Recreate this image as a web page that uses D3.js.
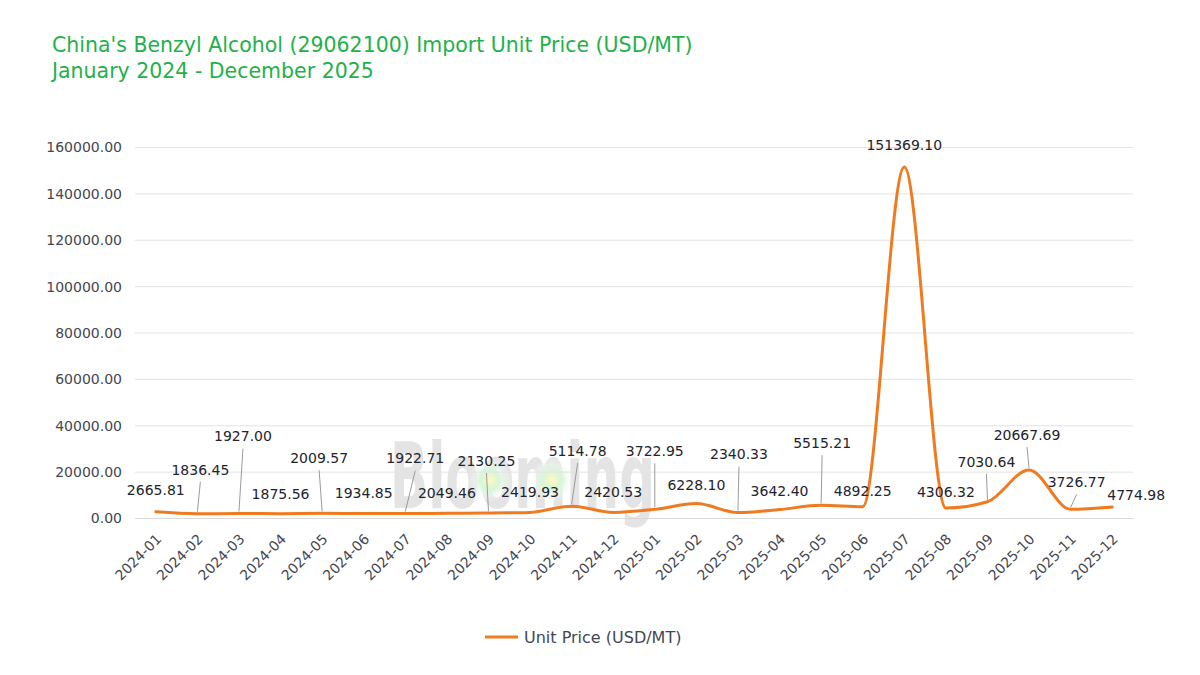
<html>
<head>
<script src="https://d3js.org/d3.v7.min.js"></script>
<style>
  body { margin: 0; background: #fff; }
  text { font-family: "DejaVu Sans", sans-serif; }
  .grid line { stroke: #e3e3e3; stroke-width: 1px; }
  .tick-label { font-size: 14px; fill: #444650; }
  .legend-label { font-size: 16px; fill: #444650; }
  .data-label { font-size: 14px; fill: #23232d; }
  .leader { stroke: #9a9a9a; stroke-width: 1px; }
  .title { font-size: 20.5px; fill: #1fb14a; }
</style>
</head>
<body>
<div id="chart"></div>
<script>
// data
var months = ["2024-01","2024-02","2024-03","2024-04","2024-05","2024-06","2024-07","2024-08","2024-09","2024-10","2024-11","2024-12",
              "2025-01","2025-02","2025-03","2025-04","2025-05","2025-06","2025-07","2025-08","2025-09","2025-10","2025-11","2025-12"];
var unitPrice = [2665.81,1836.45,1927.00,1875.56,2009.57,1934.85,1922.71,2049.46,2130.25,2419.93,5114.78,2420.53,
                 3722.95,6228.10,2340.33,3642.40,5515.21,4892.25,151369.10,4306.32,7030.64,20667.69,3726.77,4774.98];
var yTicks = [0,20000,40000,60000,80000,100000,120000,140000,160000];
var seriesName = "Unit Price (USD/MT)";

// label placement (offset from point, px) and whether a leader line is drawn
var labelDx = [0,3,4,0,-3,0,10,0,-2,0,6,0,0,0,1,0,1,0,0,0,-1,-2,6,24];
var labelDy = [-22,-44,-77,-20,-55,-20,-55,-20,-52,-20,-55,-20,-58,-18,-58,-18,-62,-16,-22,-16,-40,-35,-27,-12];
var leader  = [0,1,1,0,1,0,1,0,1,0,1,0,1,0,1,0,1,0,0,0,1,1,1,0];

var W = 1200, H = 675;
var mLeft = 135, mRight = 1133, mTop = 147, mBottom = 518;

var svg = d3.select("#chart").append("svg")
    .attr("width", W).attr("height", H);

var x = d3.scalePoint().domain(months).range([mLeft, mRight]).padding(0.5);
var y = d3.scaleLinear().domain([0, 160000]).range([mBottom, mTop]);

// title
svg.append("text").attr("class", "title").attr("x", 52).attr("y", 52)
    .text("China's Benzyl Alcohol (29062100) Import Unit Price (USD/MT)");
svg.append("text").attr("class", "title").attr("x", 52).attr("y", 78)
    .text("January 2024 - December 2025");

// watermark
var wm = svg.append("g").attr("opacity", 0.65);
var grad = svg.append("defs").append("radialGradient").attr("id", "glow");
grad.append("stop").attr("offset", "0%").attr("stop-color", "#fff6a0");
grad.append("stop").attr("offset", "45%").attr("stop-color", "#c4f0c6");
grad.append("stop").attr("offset", "100%").attr("stop-color", "#ffffff").attr("stop-opacity", 0);
wm.append("text").attr("x", 390).attr("y", 508)
    .attr("font-size", 90).attr("font-weight", "bold").attr("fill", "#d6d6d6")
    .attr("textLength", 265).attr("lengthAdjust", "spacingAndGlyphs")
    .text("Blooming");
wm.selectAll("circle.g").data([490, 552]).enter().append("circle")
    .attr("cx", d => d).attr("cy", 480).attr("r", 22).attr("fill", "url(#glow)");

// grid + y axis
var yaxis = d3.axisLeft(y).tickValues(yTicks).tickSize(-(mRight - mLeft)).tickFormat(d3.format(".2f"));
var gy = svg.append("g").attr("class", "grid").attr("transform", "translate(" + mLeft + ",0)").call(yaxis);
gy.select(".domain").remove();
gy.selectAll("text").attr("class", "tick-label").attr("x", -13).attr("dy", "0.35em");

// x axis labels
var xaxis = d3.axisBottom(x).tickSize(0);
var gx = svg.append("g").attr("transform", "translate(0," + mBottom + ")").call(xaxis);
gx.select(".domain").attr("stroke", "#d8d8d8");
gx.selectAll("text").attr("class", "tick-label")
    .attr("text-anchor", "end")
    .attr("x", 0).attr("y", 0).attr("dy", 0)
    .attr("transform", "translate(6,22) rotate(-45)");

// line
var line = d3.line()
    .x((d, i) => x(months[i]))
    .y(d => y(d))
    .curve(d3.curveMonotoneX);
svg.append("path").datum(unitPrice)
    .attr("fill", "none").attr("stroke", "#f07a1f").attr("stroke-width", 3)
    .attr("stroke-linejoin", "round").attr("stroke-linecap", "round")
    .attr("d", line);

// labels
var labels = svg.append("g");
unitPrice.forEach(function(v, i) {
    var px = x(months[i]), py = y(v);
    var lx = px + labelDx[i], ly = py + labelDy[i];
    if (leader[i]) {
        labels.append("line").attr("class", "leader")
            .attr("x1", lx).attr("y1", ly + 12)
            .attr("x2", px).attr("y2", py - 2);
    }
    labels.append("text").attr("class", "data-label")
        .attr("x", lx).attr("y", ly).attr("dy", "0.35em")
        .attr("text-anchor", "middle")
        .text(d3.format(".2f")(v));
});

// legend
var lg = svg.append("g").attr("transform", "translate(485,637)");
lg.append("line").attr("x1", 0).attr("x2", 33).attr("y1", 0).attr("y2", 0)
    .attr("stroke", "#f07a1f").attr("stroke-width", 3);
lg.append("text").attr("class", "legend-label").attr("x", 39).attr("dy", "0.35em").text(seriesName);
</script>
</body>
</html>
